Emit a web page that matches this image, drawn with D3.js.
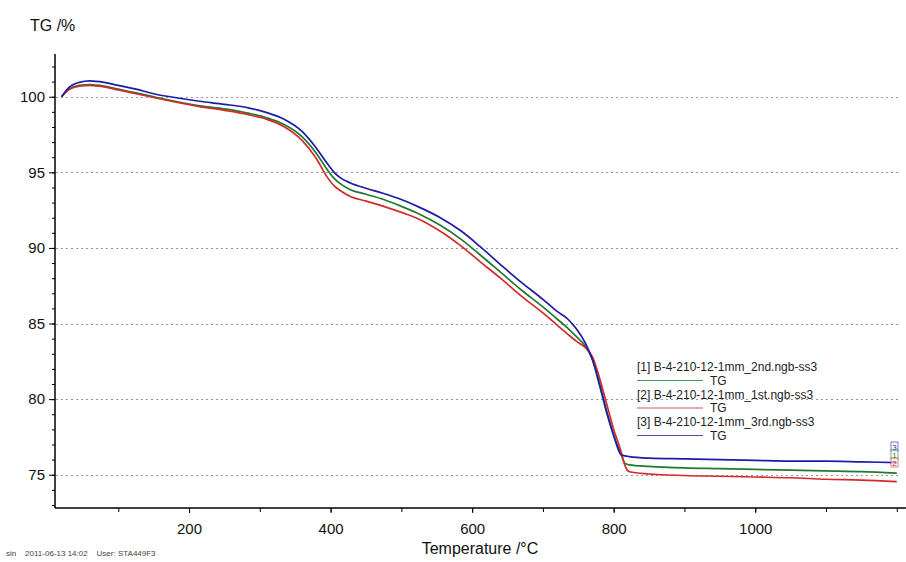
<!DOCTYPE html>
<html lang="en">
<head>
  <meta charset="utf-8">
  <script src="https://cdnjs.cloudflare.com/ajax/libs/d3/7.8.5/d3.min.js"></script>
  <style>
    body { margin: 0; background: #fff; }
    svg { font-family: "Liberation Sans", Arial, sans-serif; }
    .grid line { stroke: #999; stroke-dasharray: 2,3; }
  </style>
</head>
<body>
<script>

var width = 906,
    height = 562;

// temperature (°C) sampling points
var temps = [20, 30, 45, 60, 80, 100, 125, 150, 180, 215, 250, 285, 310, 335, 360, 380, 395, 405, 415, 428,
             450, 475, 500, 525, 555, 585, 611, 640, 670, 700, 720, 735, 748, 760, 770, 780, 790, 800, 810, 816,
             822, 850, 900, 950, 1000, 1050, 1100, 1150, 1200];

// [1] 2nd run (green)
var tg2nd = [100.0, 100.5, 100.75, 100.8, 100.7, 100.5, 100.25, 100.0, 99.7, 99.4, 99.2, 98.9, 98.6, 98.15, 97.35, 96.25, 95.2, 94.6, 94.2, 93.85,
             93.55, 93.2, 92.75, 92.25, 91.5, 90.55, 89.55, 88.4, 87.2, 86.1, 85.3, 84.7, 84.1, 83.5, 82.6, 80.9, 79.1, 77.6, 76.4, 75.75,
             75.65, 75.55, 75.45, 75.4, 75.35, 75.3, 75.25, 75.2, 75.1];

// [2] 1st run (red)
var tg1st = [100.0, 100.45, 100.7, 100.75, 100.65, 100.45, 100.2, 99.95, 99.65, 99.35, 99.1, 98.8, 98.5, 98.0, 97.1, 95.9, 94.7, 94.1, 93.75, 93.4,
             93.1, 92.75, 92.35, 91.9, 91.1, 90.1, 89.1, 88.0, 86.8, 85.7, 84.9, 84.3, 83.8, 83.4, 82.8, 81.4, 79.7, 78.0, 76.6, 75.6,
             75.2, 75.05, 74.95, 74.9, 74.85, 74.8, 74.7, 74.65, 74.55];

// [3] 3rd run (blue)
var tg3rd = [100.0, 100.6, 100.95, 101.05, 100.95, 100.75, 100.5, 100.2, 99.95, 99.7, 99.5, 99.25, 98.95, 98.5, 97.7, 96.6, 95.6, 95.0, 94.6, 94.3,
             93.95, 93.6, 93.2, 92.7, 92.0, 91.1, 90.1, 88.9, 87.7, 86.6, 85.8, 85.3, 84.6, 83.7, 82.6, 81.0, 79.2, 77.6, 76.35, 76.25,
             76.2, 76.1, 76.05, 76.0, 75.95, 75.9, 75.9, 75.85, 75.8];

var seriesNames = ["[1] B-4-210-12-1mm_2nd.ngb-ss3", "[2] B-4-210-12-1mm_1st.ngb-ss3", "[3] B-4-210-12-1mm_3rd.ngb-ss3"];
var seriesColors = ["#1f7a2e", "#d42a2a", "#1c1ca6"];
var legendColors = ["#3f9a60", "#c85a5a", "#4a4ab8"];

var yMajor = [75, 80, 85, 90, 95, 100];
var xMajor = [200, 400, 600, 800, 1000];

var x = d3.scaleLinear().domain([10.6, 1213]).range([55, 906]);
var y = d3.scaleLinear().domain([72.8, 102.8]).range([508, 54.4]);

var svg = d3.select("body").append("svg")
    .attr("width", width)
    .attr("height", height);

// dotted horizontal grid
svg.append("g")
    .attr("class", "grid")
  .selectAll("line")
    .data(yMajor)
  .enter().append("line")
    .attr("x1", 56)
    .attr("x2", 900)
    .attr("y1", function(d) { return Math.round(y(d)) + 0.5; })
    .attr("y2", function(d) { return Math.round(y(d)) + 0.5; });

// y axis with minor ticks every 1 %
var yAxis = svg.append("g")
    .attr("transform", "translate(55,0)")
    .call(d3.axisLeft(y).tickValues(d3.range(73, 103, 1)).tickSize(3).tickFormat(""));
yAxis.selectAll("text").remove();
svg.append("g")
    .attr("transform", "translate(55,0)")
    .call(d3.axisLeft(y).tickValues(yMajor).tickSize(6).tickPadding(4))
    .call(function(g) { g.select(".domain").remove(); })
    .selectAll("text")
      .style("font-size", "15px")
      .attr("fill", "#111");
yAxis.select(".domain").attr("stroke-width", 1.5).attr("d", "M0,54V508");

// x axis with minor ticks every 100 °C
var xAxis = svg.append("g")
    .attr("transform", "translate(0,508)")
    .call(d3.axisBottom(x).tickValues(d3.range(100, 1201, 100)).tickSize(4).tickFormat(""));
xAxis.select(".domain").attr("stroke-width", 1.5).attr("d", "M55,0H906");
svg.append("g")
    .attr("transform", "translate(0,508)")
    .call(d3.axisBottom(x).tickValues(xMajor).tickSize(5).tickPadding(10).tickFormat(d3.format("d")))
    .call(function(g) { g.select(".domain").remove(); })
    .selectAll("text")
      .style("font-size", "15px")
      .attr("fill", "#111");

// curves
var line = d3.line()
    .x(function(d) { return x(d[0]); })
    .y(function(d) { return y(d[1]); })
    .curve(d3.curveMonotoneX);

var allSeries = [tg2nd, tg1st, tg3rd];
[0, 1, 2].forEach(function(i) {
  svg.append("path")
      .datum(temps.map(function(t, k) { return [t, allSeries[i][k]]; }))
      .attr("fill", "none")
      .attr("stroke", seriesColors[i])
      .attr("stroke-width", 1.7)
      .attr("d", line);
});

// end-of-curve markers
var markerY = [455, 463, 447];
var markerText = ["1", "2", "3"];
[2, 0, 1].forEach(function(i) {
  var m = svg.append("g").attr("transform", "translate(891," + markerY[i] + ")");
  m.append("rect")
      .attr("x", 0).attr("y", -5)
      .attr("width", 7).attr("height", 9)
      .attr("fill", "#fff")
      .attr("fill-opacity", 0.6)
      .attr("stroke", seriesColors[i])
      .attr("stroke-width", 0.6);
  m.append("text")
      .attr("x", 3.5).attr("y", 3)
      .attr("text-anchor", "middle")
      .style("font-size", "8px")
      .attr("fill", seriesColors[i])
      .text(markerText[i]);
});

// legend
var legend = svg.append("g").attr("transform", "translate(637,0)");
seriesNames.forEach(function(name, i) {
  var top = 371 + i * 27.5;
  legend.append("text")
      .attr("x", 0).attr("y", top)
      .style("font-size", "12px")
      .attr("fill", "#222")
      .text(name);
  legend.append("line")
      .attr("x1", 0).attr("x2", 66)
      .attr("y1", top + 9.5).attr("y2", top + 9.5)
      .attr("stroke", legendColors[i])
      .attr("stroke-width", 1.2);
  legend.append("text")
      .attr("x", 73).attr("y", top + 13.5)
      .style("font-size", "12px")
      .attr("fill", "#222")
      .text("TG");
});

// titles
svg.append("text")
    .attr("x", 30).attr("y", 31)
    .style("font-size", "16px")
    .attr("fill", "#111")
    .text("TG /%");

svg.append("text")
    .attr("x", 480).attr("y", 554)
    .attr("text-anchor", "middle")
    .style("font-size", "16px")
    .attr("fill", "#111")
    .text("Temperature /°C");

svg.append("text")
    .attr("x", 6).attr("y", 556)
    .style("font-size", "8px")
    .attr("fill", "#444")
    .attr("xml:space", "preserve")
    .text("sin    2011-06-13 14:02    User: STA449F3");

</script>
</body>
</html>
